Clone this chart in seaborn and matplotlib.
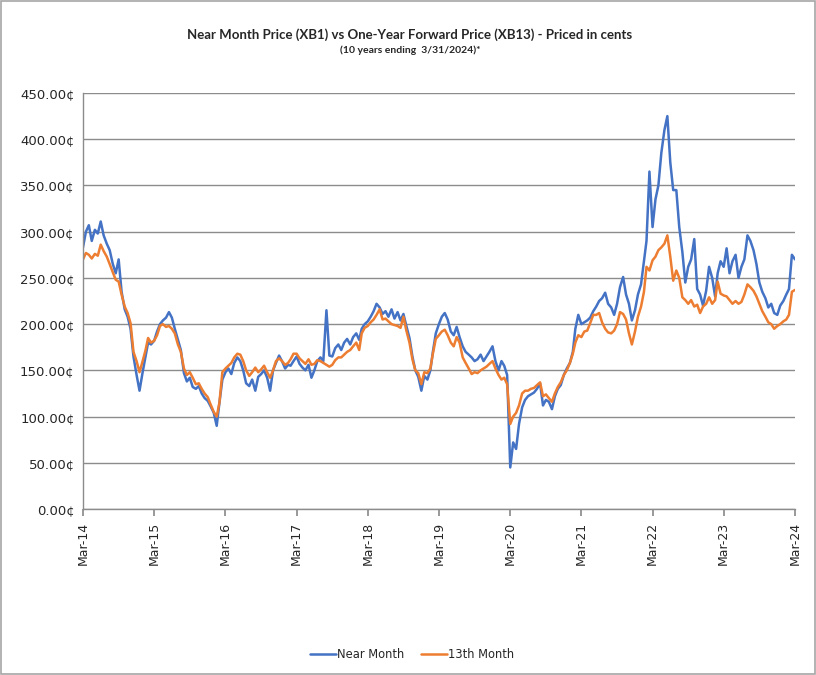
import matplotlib.pyplot as plt
import matplotlib.dates as mdates
from matplotlib.ticker import FuncFormatter, MultipleLocator
from matplotlib.patches import Rectangle
import seaborn as sns
import pandas as pd

# Prices in cents at twice-monthly points (3/31/2014 - 3/31/2024)
near_2014 = [283, 300, 307, 290, 302, 298, 311, 296, 287, 280, 265, 255,
             270, 235, 216, 208, 195, 165, 145, 128, 148, 165, 180, 178]
near_2015 = [182, 192, 200, 204, 207, 213, 207, 195, 183, 172, 147, 138,
             142, 132, 130, 133, 125, 120, 117, 111, 104, 90, 115, 140]
near_2016 = [148, 152, 146, 158, 164, 160, 150, 136, 133, 140, 128, 143,
             146, 150, 142, 128, 150, 158, 166, 160, 152, 156, 155, 160]
near_2017 = [165, 157, 153, 150, 156, 142, 150, 160, 164, 160, 215, 166,
             165, 174, 178, 172, 180, 184, 178, 186, 190, 183, 195, 200]
near_2018 = [203, 208, 214, 222, 218, 211, 214, 208, 216, 206, 213, 204,
             211, 198, 185, 165, 150, 143, 128, 144, 140, 150, 170, 190]
near_2019 = [200, 208, 212, 205, 192, 188, 197, 186, 176, 170, 167, 164,
             160, 162, 167, 160, 165, 170, 176, 160, 150, 160, 155, 145]
near_2020 = [45, 72, 65, 92, 110, 118, 122, 124, 126, 130, 136, 112,
             118, 116, 108, 122, 130, 134, 145, 152, 158, 170, 195, 210]
near_2021 = [200, 202, 204, 207, 214, 219, 225, 228, 234, 222, 218, 210,
             222, 240, 251, 232, 222, 204, 215, 232, 243, 268, 290, 365]
near_2022 = [305, 335, 350, 385, 410, 425, 375, 345, 345, 305, 278, 245,
             262, 270, 292, 238, 232, 220, 236, 262, 250, 230, 255, 268]
near_2023 = [262, 282, 255, 268, 275, 250, 262, 270, 296, 290, 280, 265,
             245, 235, 228, 218, 222, 212, 210, 220, 225, 232, 238, 275]
near_end = [270]

m13_2014 = [270, 277, 275, 271, 276, 274, 286, 279, 273, 265, 256, 248,
            246, 232, 219, 212, 201, 170, 160, 148, 160, 172, 185, 180]
m13_2015 = [182, 188, 198, 200, 197, 198, 195, 190, 178, 170, 152, 145,
            148, 142, 135, 136, 130, 125, 121, 113, 105, 100, 115, 148]
m13_2016 = [152, 155, 158, 164, 168, 167, 160, 150, 144, 148, 153, 148,
            151, 155, 148, 142, 150, 160, 163, 160, 156, 158, 162, 168]
m13_2017 = [168, 163, 160, 157, 162, 156, 157, 161, 160, 158, 156, 154,
            156, 161, 164, 164, 167, 170, 172, 176, 180, 172, 190, 196]
m13_2018 = [198, 202, 205, 210, 216, 205, 206, 203, 200, 199, 198, 196,
            208, 193, 180, 162, 150, 147, 135, 148, 147, 152, 168, 184]
m13_2019 = [188, 192, 194, 188, 180, 176, 186, 180, 164, 158, 152, 146,
            148, 147, 150, 152, 154, 157, 160, 152, 145, 140, 142, 135]
m13_2020 = [92, 100, 104, 112, 125, 128, 128, 130, 131, 134, 137, 122,
            124, 120, 116, 125, 132, 137, 145, 150, 158, 168, 180, 188]
m13_2021 = [186, 192, 193, 201, 210, 210, 212, 202, 195, 191, 190, 193,
            200, 213, 211, 205, 190, 178, 192, 208, 219, 235, 262, 258]
m13_2022 = [269, 273, 280, 283, 287, 296, 273, 247, 258, 250, 229, 226,
            222, 226, 219, 221, 212, 219, 222, 229, 222, 226, 246, 233]
m13_2023 = [231, 230, 226, 222, 225, 222, 224, 232, 243, 240, 236, 230,
            222, 214, 208, 202, 200, 195, 198, 200, 203, 205, 210, 235]
m13_end = [237]

near_month = (near_2014 + near_2015 + near_2016 + near_2017 + near_2018 +
              near_2019 + near_2020 + near_2021 + near_2022 + near_2023 + near_end)
month_13 = (m13_2014 + m13_2015 + m13_2016 + m13_2017 + m13_2018 +
            m13_2019 + m13_2020 + m13_2021 + m13_2022 + m13_2023 + m13_end)

try:
    dates = pd.date_range('2014-03-31', '2024-03-31', freq='SME')
    year_ticks = pd.date_range('2014-03-31', '2024-03-31', freq='12ME')
except ValueError:
    dates = pd.date_range('2014-03-31', '2024-03-31', freq='SM')
    year_ticks = pd.date_range('2014-03-31', '2024-03-31', freq='12M')

df = pd.DataFrame({'Date': dates, 'Near Month': near_month, '13th Month': month_13})
df = df.melt(id_vars='Date', var_name='Series', value_name='Price')

sns.set_theme(style='white')
plt.rcParams['font.family'] = ['DejaVu Sans']

fig = plt.figure(figsize=(8.16, 6.75), dpi=100)
ax = fig.add_axes([0.1017, 0.2459, 0.8726, 0.6163])

sns.lineplot(data=df, x='Date', y='Price', hue='Series',
             hue_order=['Near Month', '13th Month'],
             palette={'Near Month': '#4472C4', '13th Month': '#ED7D31'},
             linewidth=1.8, ax=ax, legend=False)

# axes look (Excel style)
ax.set_ylim(0, 450)
ax.yaxis.set_major_locator(MultipleLocator(50))
ax.yaxis.set_major_formatter(FuncFormatter(lambda v, p: f'{v:.2f}\u00a2'))
ax.yaxis.grid(True, color='#8c8c8c', linewidth=1)
ax.set_axisbelow(True)

ax.set_xlim(dates[0], dates[-1])
ax.set_xticks(year_ticks)
ax.xaxis.set_major_formatter(mdates.DateFormatter('%b-%y'))
plt.setp(ax.get_xticklabels(), rotation=90)

ax.set_xlabel('')
ax.set_ylabel('')
for s in ['top', 'right']:
    ax.spines[s].set_visible(False)
for s in ['left', 'bottom']:
    ax.spines[s].set_color('#8c8c8c')
    ax.spines[s].set_linewidth(1)
ax.tick_params(axis='y', length=0, labelsize=9.5, labelcolor='#262626', pad=6)
ax.tick_params(axis='x', length=5, color='#8c8c8c', labelsize=9,
               labelcolor='#262626', pad=4, bottom=True)

fig.text(0.5025, 0.948, 'Near Month Price (XB1) vs One-Year Forward Price (XB13) - Priced in cents',
         ha='center', va='center', fontsize=9.5, fontweight='bold', family='Lato')
fig.text(0.5025, 0.926, '(10 years ending  3/31/2024)*',
         ha='center', va='center', fontsize=7.5, fontweight='bold', family='Lato')

lines = ax.get_lines()
fig.legend(lines[:2], ['Near Month', '13th Month'], loc='center',
           bbox_to_anchor=(0.505, 0.03), ncol=2, frameon=False,
           handlelength=2.3, columnspacing=1.4, fontsize=8.3, handletextpad=0.1)

# chart border
fig.patches.append(Rectangle((0.001, 0.001), 0.998, 0.998, transform=fig.transFigure,
                             fill=False, edgecolor='#a6a6a6', linewidth=1.2))

plt.savefig('out.png', dpi=100)
